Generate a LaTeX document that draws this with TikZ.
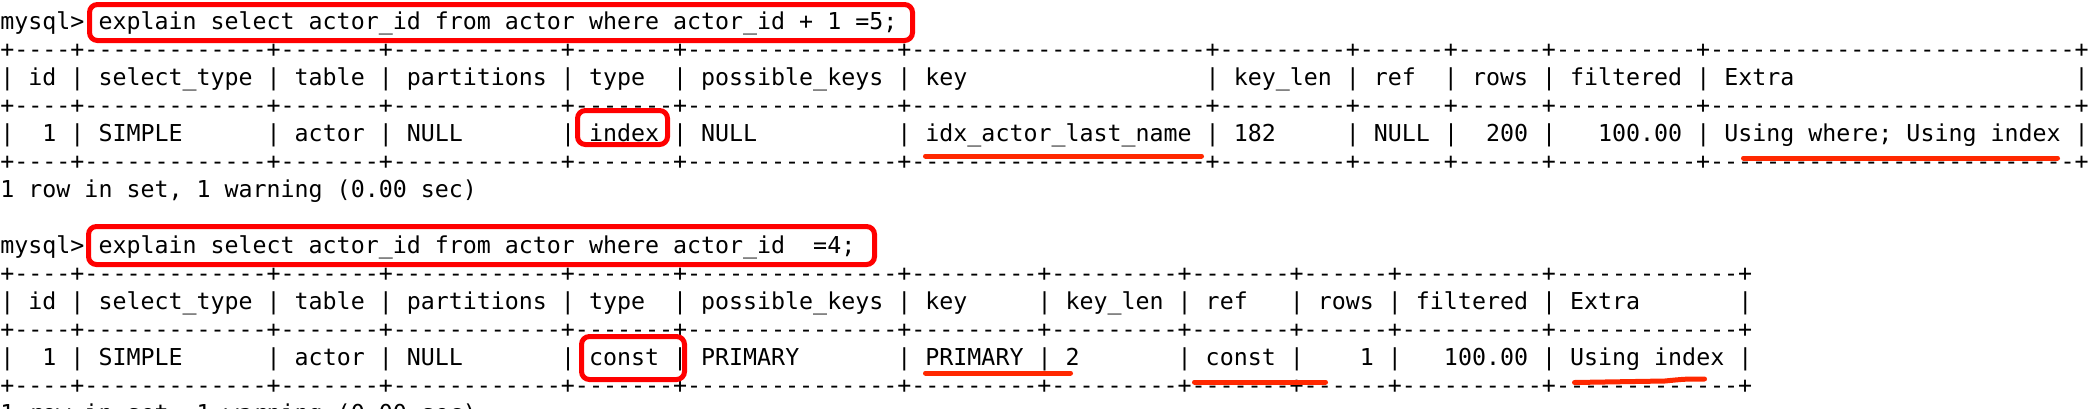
\documentclass[tikz,border=0pt]{standalone}
\usepackage{fontspec}
\setmonofont{DejaVu Sans Mono}
\definecolor{boxred}{RGB}{255,0,0}
\definecolor{markred}{RGB}{255,40,0}
\newcommand{\Dash}[1]{\foreach \i in {1,...,#1}{-}}
\newcommand{\Border}[1]{+\foreach \w in {#1}{\Dash{\w}+}}
\newcommand{\BorderA}{\Border{4,13,7,12,7,15,21,9,6,6,10,26}}
\newcommand{\BorderB}{\Border{4,13,7,12,7,15,9,9,7,6,10,13}}
\tikzset{
  term/.style={anchor=base west, inner sep=0pt, text=black,
    font=\ttfamily\fontsize{11.64pt}{14pt}\selectfont},
  hlbox/.style={draw=boxred, line width=2.5pt, rounded corners=4pt},
  hlline/.style={draw=markred, line width=2.5pt, line cap=round},
}

\begin{document}
\begin{tikzpicture}[x=0.5pt, y=-0.5pt]

    \useasboundingbox (0,0) rectangle (2100,408);
    \clip (0,0) rectangle (2100,408);
    \fill[white] (0,0) rectangle (2100,408);

    % first query
    \draw(0,29) node[term] (cmda) {mysql> explain select actor\_id from actor where actor\_id + 1 =5;};
    \draw(0,57) node[term] (topa) {\BorderA};
    \draw(0,85) node[term] (heada) {| id | select\_type | table | partitions | type~~| possible\_keys | key~~~~~~~~~~~~~~~~~| key\_len | ref~~| rows | filtered | Extra~~~~~~~~~~~~~~~~~~~~|};
    \draw(0,113) node[term] (mida) {\BorderA};
    \draw(0,141) node[term] (rowa) {|~~1 | SIMPLE~~~~~~| actor | NULL~~~~~~~| index | NULL~~~~~~~~~~| idx\_actor\_last\_name | 182~~~~~| NULL |~~200 |~~~100.00 | Using where; Using index |};
    \draw(0,169) node[term] (bota) {\BorderA};
    \draw(0,197) node[term] (infoa) {1 row in set, 1 warning (0.00 sec)};

    % second query
    \draw(0,253) node[term] (cmdb) {mysql> explain select actor\_id from actor where actor\_id~~=4;};
    \draw(0,281) node[term] (topb) {\BorderB};
    \draw(0,309) node[term] (headb) {| id | select\_type | table | partitions | type~~| possible\_keys | key~~~~~| key\_len | ref~~~| rows | filtered | Extra~~~~~~~|};
    \draw(0,337) node[term] (midb) {\BorderB};
    \draw(0,365) node[term] (rowb) {|~~1 | SIMPLE~~~~~~| actor | NULL~~~~~~~| const | PRIMARY~~~~~~~| PRIMARY | 2~~~~~~~| const |~~~~1 |~~~100.00 | Using index |};
    \draw(0,393) node[term] (botb) {\BorderB};
    \draw(0,421) node[term] (infob) {1 row in set, 1 warning (0.00 sec)};

    % red marks
    \draw[hlbox] (89.5,4.5) rectangle (912.5,40.5);
    \draw[hlbox] (577.5,110.5) rectangle (667.5,144.5);
    \draw[hlline] (925.5,156) -- (1201.5,156);
    \draw[hlline] (1743.5,158) -- (2057.5,158);

    \draw[hlbox] (88.5,226.5) rectangle (874.5,264.5);
    \draw[hlbox] (581.5,336.5) rectangle (684.5,379.5);
    \draw[hlline] (925.5,373) -- (1070.5,373);
    \draw[hlline] (1194.5,382) -- (1325.5,382);
    \draw[hlline] (1574.5,382.5) -- (1665,381) .. controls (1685,379) .. (1704.5,379);

\end{tikzpicture}
\end{document}
